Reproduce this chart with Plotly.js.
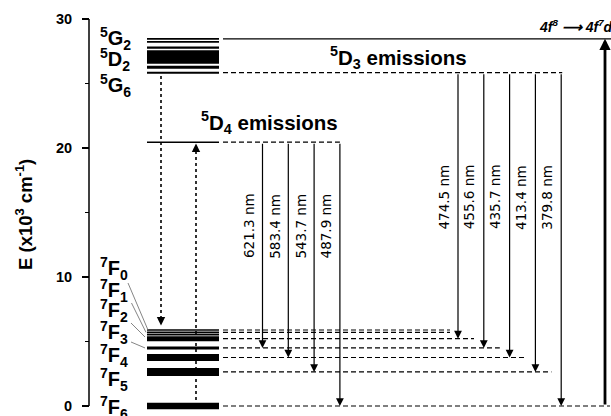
<!DOCTYPE html>
<html><head><meta charset="utf-8">
<script src="https://cdn.plot.ly/plotly-3.0.1.min.js"></script>
<style>html,body{margin:0;padding:0;background:#fff}#chart{width:611px;height:416px}</style>
</head><body><div id="chart"></div>
<script>
// ---------------- data: energies in 10^3 cm^-1 ----------------
const groundLabels = ['<sup>7</sup>F<sub>6</sub>','<sup>7</sup>F<sub>5</sub>','<sup>7</sup>F<sub>4</sub>','<sup>7</sup>F<sub>3</sub>','<sup>7</sup>F<sub>2</sub>','<sup>7</sup>F<sub>1</sub>','<sup>7</sup>F<sub>0</sub>'];
const groundE = [0, 2.64, 3.76, 4.50, 5.22, 5.71, 5.89];        // 7F6 ... 7F0
const groundExtraE = [5.53];                                     // extra sub-level line
const excitedLabels = ['<sup>5</sup>G<sub>2</sub>','<sup>5</sup>D<sub>2</sub>','<sup>5</sup>G<sub>6</sub>'];
const excitedE = [26.26, 26.68, 26.93, 27.18, 27.43, 27.78, 28.22, 28.46]; // 5G6 ... 5G2 stack
const E_5D4 = 20.45;
const E_5D3 = 25.84;
const E_4f5d = 28.46;
const d4Wavelengths = ['621.3', '583.4', '543.7', '487.9'];      // nm
const d4TargetE = [4.50, 3.76, 2.64, 0];                          // 7F3, 7F4, 7F5, 7F6
const d3Wavelengths = ['474.5', '455.6', '435.7', '413.4', '379.8'];
const d3TargetE = [5.22, 4.50, 3.76, 2.64, 0];                    // 7F2 ... 7F6
const yTicks = [0, 10, 20, 30];
const yMinorTicks = [5, 15, 25];
const yTitle = 'E (x10<sup>3</sup> cm<sup>-1</sup>)';

// ---------------- layout helpers (pixel geometry) ----------------
const W = 611, H = 416, AX = 89;           // y-axis at pixel 89
const PXU = 12.9, Y0PX = 406;              // px per unit, pixel of E=0
const ex = p => p - AX;                     // page px -> x data
const ey = p => (Y0PX - p) / PXU;           // page px -> E
const FONT = 'Liberation Sans, Arial, sans-serif';

const traces = [];
function hline(x0, x1, E, width, dash) {
  traces.push({x: [ex(x0), ex(x1)], y: [E, E], mode: 'lines', type: 'scatter',
    line: {color: '#000', width: width, dash: dash || 'solid'}, hoverinfo: 'skip', showlegend: false});
}
function seg(xa, Ea, xb, Eb, color, width, dash) {
  traces.push({x: [ex(xa), ex(xb)], y: [Ea, Eb], mode: 'lines', type: 'scatter',
    line: {color: color, width: width, dash: dash || 'solid'}, hoverinfo: 'skip', showlegend: false});
}

const BAR0 = 147, BAR1 = 219, DSTART = 223;
const DASH = '5px,3px';

// ground-state bars
const groundWidth = [6.5, 8, 7, 3, 5, 1.6, 1.6];
groundE.forEach((E, i) => hline(BAR0, BAR1, E, groundWidth[i]));
groundExtraE.forEach(E => hline(BAR0, BAR1, E, 1.6));
// excited bars
const excitedWidth = [3, 3.6, 3.6, 3.6, 3.6, 2.4, 1.8, 1.8];
excitedE.forEach((E, i) => hline(BAR0, BAR1, E, excitedWidth[i]));
hline(BAR0, BAR1, E_5D3, 2);
hline(BAR0, BAR1, E_5D4, 1.6);

// emission columns
const D4X0 = 262.5, D3X0 = 458, STEP = 25.8;
const d4X = d4Wavelengths.map((_, i) => D4X0 + STEP * i);
const d3X = d3Wavelengths.map((_, i) => D3X0 + STEP * i);

// dashed extensions
hline(DSTART, d4X[d4X.length - 1], E_5D4, 1.2, DASH);
hline(DSTART, d3X[d3X.length - 1] + 1, E_5D3, 1.2, DASH);
hline(DSTART, W, E_4f5d, 1.4);
hline(DSTART, d3X[0] - 8, groundE[6], 1.1, DASH);
hline(DSTART, d3X[0] - 8, groundE[5], 1.1, DASH);
d3TargetE.forEach((E, i) => hline(DSTART, i === d3TargetE.length - 1 ? W - 1 : d3X[i] + 16, E, 1.2, DASH));

// dashed vertical transitions
seg(161, E_5D3 - 0.25, 161, groundE[6] + 0.9, '#000', 1.6, '3px,3px');
seg(196, 0, 196, E_5D4 - 0.7, '#000', 1.6, '3px,3px');

// connectors from 7FJ labels to levels
const connStart = [[128, 283], [131.5, 303], [131, 323], [131, 342]];
const connEndX = [148, 146, 145, 145];
const connE = [groundE[6], groundE[5], groundE[4] + 0.13, groundE[3]];
connStart.forEach((p, i) => seg(p[0], ey(p[1]), connEndX[i], connE[i], '#777', 0.9));

// ---------------- annotations ----------------
const ann = [];
function arrow(xp, Ehead, Etail, w, size) {
  ann.push({x: ex(xp), y: Ehead, ax: ex(xp), ay: Etail, xref: 'x', yref: 'y', axref: 'x', ayref: 'y',
    text: '', showarrow: true, arrowhead: 2, arrowsize: size || 1.3, arrowwidth: w || 1.2, arrowcolor: '#000', standoff: 0});
}
d4X.forEach((x, i) => arrow(x, d4TargetE[i], E_5D4));
d3X.forEach((x, i) => arrow(x, d3TargetE[i], E_5D3));
arrow(605, E_4f5d, 0, 2.8, 0.8);
arrow(161, groundE[6] + 0.35, groundE[6] + 1.0, 1.4, 1.2);
arrow(196, E_5D4 - 0.1, E_5D4 - 0.8, 1.4, 1.2);

function txt(xp, yp, text, size, opts) {
  ann.push(Object.assign({x: xp / W, y: 1 - yp / H, xref: 'paper', yref: 'paper', text: text, showarrow: false,
    xanchor: 'left', yanchor: 'middle', font: {family: FONT, size: size, color: '#000', weight: 'bold'}}, opts || {}));
}
// axis title
txt(24, 215, yTitle, 18.5, {xanchor: 'center', textangle: -90});
// level labels
const excitedLabelY = [38, 59, 85];
excitedLabels.forEach((t, i) => txt(98, excitedLabelY[i], t, 20));
const groundLabelY = [407, 379, 355, 332, 310, 290, 268];
groundLabels.forEach((t, i) => txt(98, groundLabelY[i], t, 20));

txt(398, 58, '<sup>5</sup>D<sub>3</sub> emissions', 20.5, {xanchor: 'center'});
txt(269, 123, '<sup>5</sup>D<sub>4</sub> emissions', 20.5, {xanchor: 'center'});
txt(537, 26, '<i>4f<sup>8</sup> ⟶ 4f<sup>7</sup>d</i>', 14);

// wavelength labels
d4Wavelengths.forEach((w, i) => txt(d4X[i] - 13.5, 226, w + ' nm', 14,
  {xanchor: 'center', textangle: -90, font: {family: 'DejaVu Sans', size: 13.5, color: '#000'}}));
d3Wavelengths.forEach((w, i) => txt(d3X[i] - 14.5, 197, w + ' nm', 14,
  {xanchor: 'center', textangle: -90, font: {family: 'DejaVu Sans', size: 13.5, color: '#000'}}));

const layout = {
  width: W, height: H, margin: {l: 0, r: 0, t: 0, b: 0, pad: 0},
  paper_bgcolor: '#fff', plot_bgcolor: '#fff', showlegend: false,
  xaxis: {range: [ex(0), ex(W)], visible: false, fixedrange: true},
  yaxis: {range: [ey(H), ey(0)], anchor: 'free', position: AX / W, fixedrange: true,
    tickmode: 'array', tickvals: yTicks, ticktext: yTicks.map(String),
    ticks: 'outside', ticklen: 7, tickwidth: 1.5, tickcolor: '#000', ticklabelstandoff: 7,
    showline: false, showgrid: false, zeroline: false,
    tickfont: {family: FONT, size: 14.5, color: '#000', weight: 'bold'},
    minor: {tickmode: 'array', tickvals: yMinorTicks, ticks: 'outside', ticklen: 4, tickwidth: 1.5, tickcolor: '#000', showgrid: false}},
  shapes: [{type: 'line', xref: 'x', yref: 'y', x0: 0, x1: 0, y0: yTicks[0], y1: yTicks[yTicks.length - 1], line: {color: '#000', width: 1.5}}],
  annotations: ann
};
Plotly.newPlot('chart', traces, layout, {displayModeBar: false, staticPlot: true});
</script></body></html>
